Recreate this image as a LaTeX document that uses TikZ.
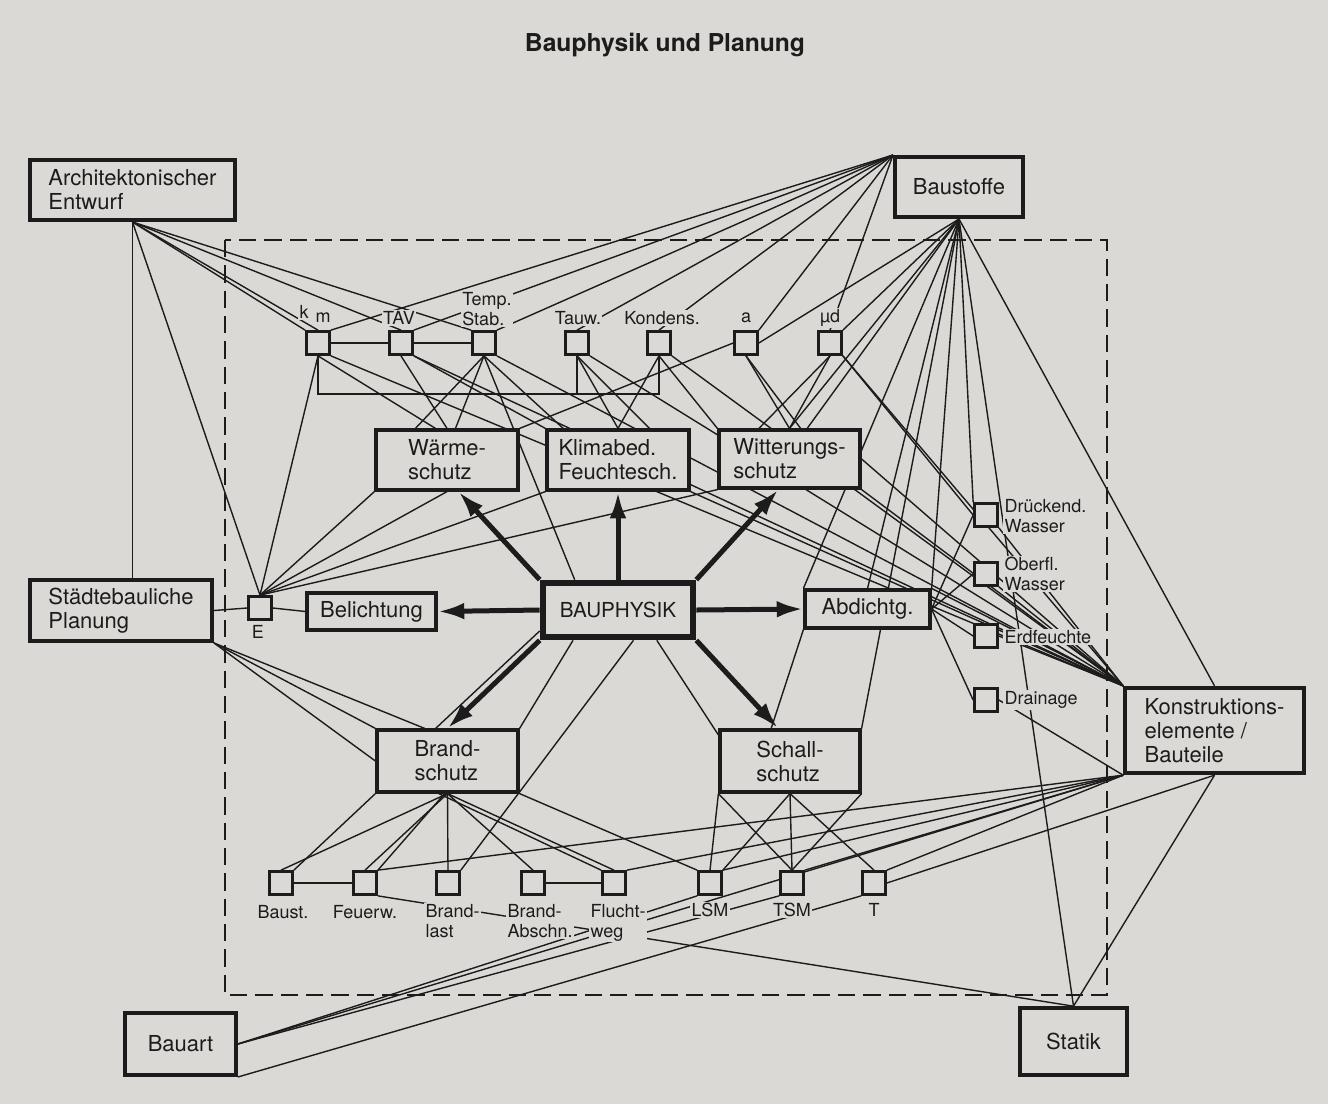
\documentclass[tikz,border=0pt]{standalone}
\usepackage{fontspec}
\setmainfont{TeX Gyre Heros}
\usetikzlibrary{arrows.meta}
\definecolor{paper}{RGB}{218,217,214}
\definecolor{ink}{RGB}{28,28,28}
\pgfdeclarelayer{sheet}
\pgfdeclarelayer{wires}
\pgfsetlayers{sheet,wires,main}
\newcommand\bxfont{\fontsize{16.5}{18}\selectfont}
\newcommand\lbfont{\fontsize{13.5}{14.5}\selectfont}
\tikzset{
  outbox/.style={draw=ink, line width=3pt, fill=paper, align=left, text=ink, font=\bxfont},
  inbox/.style={draw=ink, line width=2.4pt, fill=paper, align=left, text=ink, font=\bxfont},
  corebox/.style={draw=ink, line width=5pt, fill=paper, text=ink, font=\fontsize{15.5}{17}\selectfont},
  sq/.style={draw=ink, line width=2.3pt, fill=paper, minimum size=17pt, inner sep=0pt},
  lbl/.style={fill=paper, inner sep=1pt, align=left, text=ink, font=\lbfont},
  link/.style={draw=ink, line width=1.05pt},
  push/.style={draw=ink, line width=3.75pt, -{Latex[length=20pt,width=12.5pt]}},
  zone/.style={draw=ink, line width=1.9pt, dash pattern=on 13pt off 6pt},
}

\begin{document}
\begin{tikzpicture}[x=0.75pt, y=-0.75pt]
\begin{pgfonlayer}{sheet}
\fill[paper] (0,0) rectangle (1328,1104);
\end{pgfonlayer}
\useasboundingbox (0,0) rectangle (1328,1104);

\node[text=ink, font=\fontsize{18.5}{20}\selectfont\bfseries] (title) at (665,45) {Bauphysik und Planung};

\node[outbox, minimum width=154pt, minimum height=45pt] (arch) at (132.5,190) {Architektonischer\\Entwurf};
\node[outbox, minimum width=96pt, minimum height=45pt] (bst) at (959,187) {Baustoffe};
\node[outbox, minimum width=136.5pt, minimum height=45.75pt] (stb) at (121,610.5) {Städtebauliche\\Planung};
\node[outbox, minimum width=134pt, minimum height=64pt] (kon) at (1214.5,730.5) {Konstruktions-\\elemente /\\Bauteile};
\node[outbox, minimum width=83pt, minimum height=46.5pt] (bauart) at (180.5,1044) {Bauart};
\node[outbox, minimum width=80pt, minimum height=50pt] (statik) at (1073.5,1041.5) {Statik};

\node[corebox, minimum width=112.5pt, minimum height=40.5pt] (bph) at (618,610) {BAUPHYSIK};
\node[inbox, minimum width=106.5pt, minimum height=45pt] (waerme) at (447,460) {Wärme-\\schutz};
\node[inbox, minimum width=106.5pt, minimum height=45pt] (klima) at (618,460) {Klimabed.\\Feuchtesch.};
\node[inbox, minimum width=105.75pt, minimum height=43.5pt] (witt) at (789.5,459) {Witterungs-\\schutz};
\node[inbox, minimum width=96.75pt, minimum height=27.75pt] (bel) at (371.5,611.5) {Belichtung};
\node[inbox, minimum width=93.75pt, minimum height=28.5pt] (abd) at (867.5,609) {Abdichtg.};
\node[inbox, minimum width=105.75pt, minimum height=46.5pt] (brand) at (447.5,761) {Brand-\\schutz};
\node[inbox, minimum width=105pt, minimum height=46.5pt] (schall) at (790,761) {Schall-\\schutz};

\node[sq] (sE) at (260,608) {};
\foreach \n/\x in {skm/318, sTAV/401, sTS/484, sTw/577, sKo/659, sA/746, sMu/830}
  \node[sq] (\n) at (\x,343) {};
\foreach \n/\y in {sDW/515, sOW/574, sEF/636, sDr/700}
  \node[sq] (\n) at (986,\y) {};
\foreach \n/\x in {sBa/281, sFe/365, sBl/448, sBA/533, sFl/614, sLSM/710, sTSM/792, sT/874}
  \node[sq] (\n) at (\x,883) {};

\node[lbl] (lE) at (258,632) {E};
\node[lbl] (lk) at (304,312) {k};
\node[lbl] (lm) at (323,318) {m};
\node[lbl] (lTAV) at (399,318) {TAV};
\node[lbl] (lTS) at (487,309) {Temp.\\Stab.};
\node[lbl] (lTw) at (578,318) {Tauw.};
\node[lbl] (lKo) at (662,318) {Kondens.};
\node[lbl] (lA) at (746,318) {a};
\node[lbl] (lMu) at (830,318) {µd};
\node[lbl, anchor=west] (lDW) at (1003,516) {Drückend.\\Wasser};
\node[lbl, anchor=west] (lOW) at (1003,574) {Oberfl.\\Wasser};
\node[lbl, anchor=west] (lEF) at (1003,637) {Erdfeuchte};
\node[lbl, anchor=west] (lDr) at (1003,700) {Drainage};
\node[lbl] (lBa) at (283,912) {Baust.};
\node[lbl] (lFe) at (365,912) {Feuerw.};
\node[lbl, anchor=north west] (lBl) at (424,903) {Brand-\\last};
\node[lbl, anchor=north west] (lBA) at (506,903) {Brand-\\Abschn.};
\node[lbl, anchor=north west] (lFl) at (589,903) {Flucht-\\weg};
\node[lbl] (lLSM) at (710,910) {LSM};
\node[lbl] (lTSM) at (792,910) {TSM};
\node[lbl] (lT) at (874,910) {T};

\begin{pgfonlayer}{wires}
\draw[zone] (225,240) rectangle (1107,995);
% Entwurf, Baustoffe
\draw[link] (arch.south) -- (arch.south |- stb.north);
\foreach \t in {sE.north, skm.north west, skm.north, sTAV.north, sTS.north west}
  \draw[link] (arch.south) -- (\t);
\foreach \t in {skm.north east, sTAV.north east, sTS.north east, sTw.north, sKo.north, sA.north east, sMu.north}
  \draw[link] (bst.north west) -- (\t);
\foreach \t in {sA.east, sMu.north east, witt.north, witt.60, abd.north west, abd.north, abd.north east, schall.north east, sDW.north west, statik.north, kon.north}
  \draw[link] (bst.south) -- (\t);
% Bauteile
\foreach \s in {skm.south east, sTAV.south east, sTS.south east, sTw.south east, sKo.south east, klima.south east, witt.east, witt.south east, sMu.south east, abd.north east, sDW.south east, sOW.south east, sEF.east}
  \draw[link] (\s) -- (kon.north west);
\foreach \t in {sFe.north east, sFl.north east, sLSM.north east, sTSM.north east, sT.north east, sDr.east}
  \draw[link] (kon.south west) -- (\t);
\draw[link] (kon.south) -- (statik.north);
\draw[link] (kon.south) -- (sT.east);
\foreach \t in {sDW.west, sOW.west, sEF.west, sDr.west}
  \draw[link] (abd.east) -- (\t);
\draw[link] (abd.south west) -- (schall.120);
% Staedtebau, E
\draw[link] (stb.east) -- (sE.west);
\draw[link] (sE.east) -- (bel.west);
\foreach \t in {brand.125, brand.north west, brand.west}
  \draw[link] (stb.south east) -- (\t);
\foreach \t in {skm.south, waerme.south west, waerme.south, klima.south west, witt.south west}
  \draw[link] (sE.north) -- (\t);
% top row
\draw[link] (skm) -- (sTAV);
\draw[link] (sTAV) -- (sTS);
\draw[link] (skm.south) -- ++(0,38) coordinate (kbase) -| (sKo.south);
\draw[link] (sTw.south) -- (sTw.south |- kbase);
\draw[link] (skm.south) -- (waerme.110);
\draw[link] (sTAV.south) -- (waerme.north);
\draw[link] (sTAV.south east) -- (klima.north west);
\draw[link] (sTS.south) -- (waerme.135);
\draw[link] (sTS.south) -- (waerme.75);
\draw[link] (sTS.south) -- (klima.150);
\draw[link] (sTS.south) -- (bph.145);
\draw[link] (sTw.south) -- (klima.north);
\draw[link] (sTw.south) -- (klima.45);
\draw[link] (sKo.south) -- (klima.north);
\draw[link] (sKo.south) -- (witt.north west);
\draw[link] (sA.west) -- (waerme.north east);
\draw[link] (sA.south) -- (witt.north);
\draw[link] (sA.south) -- (witt.70);
\draw[link] (sMu.south) -- (witt.135);
\draw[link] (sMu.south) -- (witt.north);
\draw[link] (sMu.south east) -- (sDW.west);
% Bauphysik
\draw[link] (bph.195) -- (brand.110);
\draw[link] (bph.214) -- (brand.north east);
\draw[link] (bph.297) -- (sBl.north east);
\draw[link] (bph.322) -- (schall.160);
% Brand, Schall
\foreach \t in {sBa.north, sFe.north, sBl.north, sBA.north, sFl.north}
  \draw[link] (brand.south) -- (\t);
\draw[link] (brand.south west) -- (sBa.north east);
\draw[link] (brand.265) -- (sFe.north east);
\draw[link] (brand.255) -- (sFl.north west);
\draw[link] (brand.south east) -- (sLSM.north west);
\draw[link] (sBa) -- (sFe);
\draw[link] (sBA) -- (sFl);
\foreach \s/\t in {south west/sLSM.north, south/sLSM.north east, south west/sTSM.north, south/sTSM.north, south east/sTSM.north, south/sT.north}
  \draw[link] (schall.\s) -- (\t);
% Bauart
\foreach \t in {sLSM.south west, sTSM.south west, kon.south west}
  \draw[link] (bauart.east) -- (\t);
\draw[link] (bauart.south east) -- (sT.south west);
\draw[link] (sFe.south east) -- (statik.north);
\end{pgfonlayer}

\draw[push] (bph.north west) -- (waerme.290);
\draw[push] (bph.north) -- (klima.south);
\draw[push] (bph.north east) -- (witt.250);
\draw[push] (bph.west) -- (bel.east);
\draw[push] (bph.east) -- (abd.west);
\draw[push] (bph.south west) -- (brand.north);
\draw[push] (bph.south east) -- (schall.110);
\end{tikzpicture}
\end{document}
